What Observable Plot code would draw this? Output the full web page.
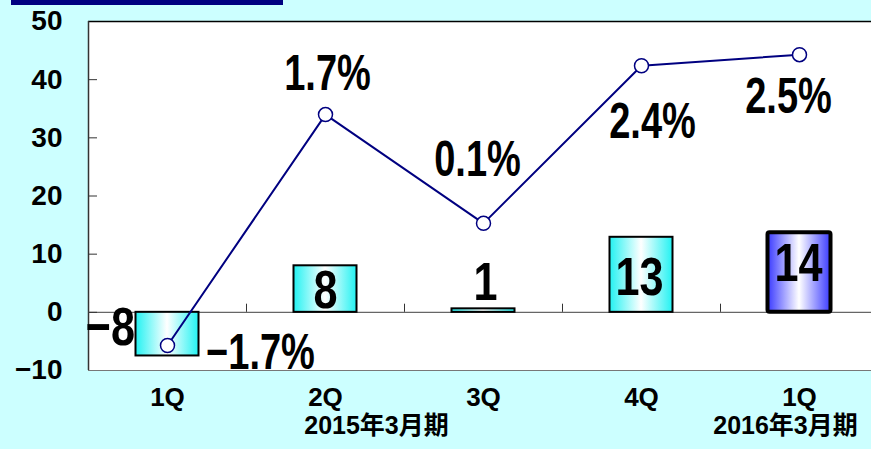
<!DOCTYPE html>
<html><head><meta charset="utf-8">
<script src="https://cdn.jsdelivr.net/npm/d3@7"></script>
<script src="https://cdn.jsdelivr.net/npm/@observablehq/plot@0.6"></script>
<style>
html,body{margin:0;padding:0;background:#ccffff;overflow:hidden;width:871px;height:449px}
#wrap{position:relative;width:871px;height:449px;overflow:hidden}
#titlebar{position:absolute;left:11px;top:0;width:272px;height:5px;background:#000080;z-index:2}
#chart{position:absolute;left:0;top:0}
</style></head><body><div id="wrap"><div id="titlebar"></div><div id="chart"></div></div>
<script>
// ---- data ----
const periods = ["FY2015 1Q","FY2015 2Q","FY2015 3Q","FY2015 4Q","FY2016 1Q"];
const quarterLabels = ["1Q","2Q","3Q","4Q","1Q"];
const barValues = [-7.5, 8.0, 0.6, 12.9, 13.7];
const barLabels = ["−8","8","1","13","14"];
const lineValues = [-5.7, 34.0, 15.3, 42.4, 44.3];
const pctLabels = ["−1.7%","1.7%","0.1%","2.4%","2.5%"];
const yTicks = [-10, 0, 10, 20, 30, 40, 50];
const fiscalPeriods = ["FY2015 2Q","FY2016 1Q"];
const fiscalLabels = ["2015年3月期","2016年3月期"];

const rows = periods.map((p, i) => ({p, q: quarterLabels[i], bar: barValues[i], barLabel: barLabels[i], line: lineValues[i], pct: pctLabels[i]}));
const fiscal = fiscalPeriods.map((p, i) => ({p, text: fiscalLabels[i]}));

// ---- style offsets ----
const pctOffsets = [[93, 8], [2, -41], [-6, -63], [11, 56], [-11, 42]];
const barLabelOffsets = [[-57, -28], [0, 25], [2, -26], [-2, 40], [-1, 31]];
const fiscalDx = [51, -14];

const axisFont = "'Liberation Sans', Arial, sans-serif";
const cjkFont = "'Liberation Sans', 'Noto Sans CJK JP', sans-serif";

const marks = [
  Plot.frame({fill: "white", stroke: "#777"}),
  Plot.ruleY([50], {stroke: "#000", strokeWidth: 1.5}),
  Plot.ruleX([periods[0]], {dx: -79, stroke: "#333", strokeWidth: 1.5}),
  Plot.ruleY([0], {stroke: "#666", strokeWidth: 1.2}),
  Plot.ruleX(periods.slice(0, 4), {dx: 79, y1: 0, y2: 1.4, stroke: "#333"}),
  Plot.axisY({ticks: yTicks.slice(1, -1), tickSize: 9, dx: 9, tickFormat: () => "", stroke: "#333"}),
  Plot.axisY({ticks: yTicks, tickSize: 0, tickPadding: 26, fontSize: 28, fontWeight: "bold", fontFamily: axisFont, fill: "black"}),
  Plot.barY(rows.slice(0, 4), {x: "p", y: "bar", fill: "url(#gradCyan)", stroke: "black", strokeWidth: 2, insetLeft: 47.5, insetRight: 47.5}),
  Plot.barY(rows.slice(4), {x: "p", y: "bar", fill: "url(#gradBlue)", stroke: "black", strokeWidth: 4, insetLeft: 47.5, insetRight: 47.5, rx: 2}),
  Plot.line(rows, {x: "p", y: "line", stroke: "#000080", strokeWidth: 2}),
  Plot.dot(rows, {x: "p", y: "line", r: 7, fill: "white", stroke: "#000080", strokeWidth: 1.5}),
  ...rows.map((r, i) => Plot.text([r], {x: "p", y: "line", text: "pct", dx: pctOffsets[i][0], dy: pctOffsets[i][1], fontSize: 50, fontWeight: "bold", fontFamily: axisFont, fill: "black", className: "sq76"})),
  ...rows.map((r, i) => Plot.text([r], {x: "p", y: "bar", text: "barLabel", dx: barLabelOffsets[i][0], dy: barLabelOffsets[i][1], fontSize: 54, fontWeight: "bold", fontFamily: axisFont, fill: "black", className: "sq80"})),
  Plot.text(rows, {x: "p", text: "q", frameAnchor: "bottom", dy: 35, fontSize: 26, fontWeight: "bold", fontFamily: axisFont, fill: "black"}),
  ...fiscal.map((f, i) => Plot.text([f], {x: "p", text: "text", frameAnchor: "bottom", dx: fiscalDx[i], dy: 63, fontSize: 25, fontWeight: "bold", fontFamily: cjkFont, fill: "black"}))
];

const chart = Plot.plot({
  width: 878, height: 449,
  marginLeft: 88, marginRight: 0, marginTop: 21, marginBottom: 79,
  style: {background: "transparent", maxWidth: "none", overflow: "visible"},
  x: {domain: periods, padding: 0, axis: null},
  y: {domain: [-10, 50]},
  marks
});

const svg = d3.select(chart);
const defs = svg.insert("defs", ":first-child");
function grad(id, edge) {
  const g = defs.append("linearGradient").attr("id", id).attr("x1", 0).attr("x2", 1).attr("y1", 0).attr("y2", 0);
  g.append("stop").attr("offset", "0%").attr("stop-color", edge);
  g.append("stop").attr("offset", "50%").attr("stop-color", "#ffffff");
  g.append("stop").attr("offset", "100%").attr("stop-color", edge);
}
grad("gradCyan", "#22f2f2");
grad("gradBlue", "#3a3aff");

document.getElementById("chart").appendChild(chart);

// horizontally condense the big labels (narrow gothic look)
function squeeze(cls, s) {
  svg.selectAll("." + cls + " text").each(function() {
    const w = this.getComputedTextLength();
    d3.select(this).attr("textLength", w * s).attr("lengthAdjust", "spacingAndGlyphs");
  });
}
squeeze("sq76", 0.76);
squeeze("sq80", 0.8);
</script>
</body></html>
